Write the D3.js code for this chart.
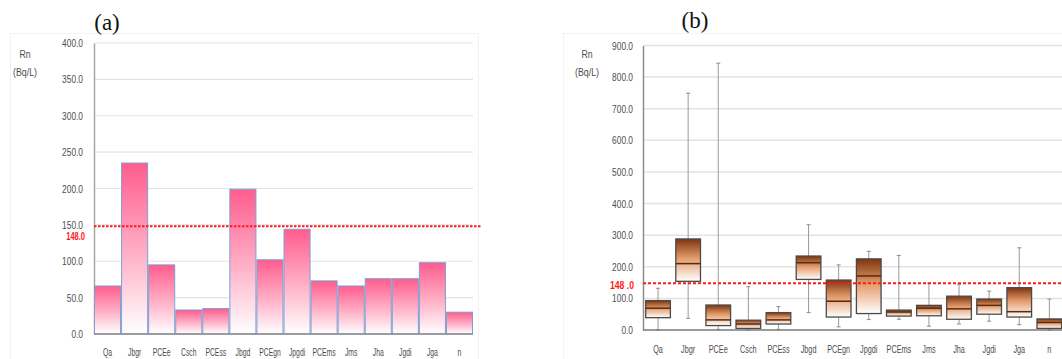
<!DOCTYPE html>
<html>
<head>
<meta charset="utf-8">
<script src="https://cdn.jsdelivr.net/npm/d3@7"></script>
<style>
  html, body { margin: 0; padding: 0; background: #fff; }
  svg { display: block; }
</style>
</head>
<body>
<svg id="chart" width="1062" height="359"></svg>
<script>
// Sampling sites (geological units)
const categories = ["Qa","Jbgr","PCEe","Csch","PCEss","Jbgd","PCEgn","Jpgdi","PCEms","Jms","Jha","Jgdi","Jga","n"];

// (a) mean radon concentration per unit (Bq/L)
const meanValues = [66, 235, 95, 33, 35, 199, 102, 144, 73, 66, 76, 76, 98, 30];

// (b) box-plot statistics per unit (Bq/L)
const boxMin    = [0, 37, 2, 0, 2, 55, 10, 33, 34, 12, 19, 28, 17, 0];
const boxQ1     = [39, 154, 14, 5, 19, 160, 41, 52, 44, 45, 34, 50, 41, 5];
const boxMedian = [69, 210, 32, 19, 32, 213, 91, 171, 57, 69, 67, 78, 58, 24];
const boxQ3     = [93, 288, 79, 31, 55, 234, 158, 225, 63, 78, 107, 98, 134, 35];
const boxMax    = [132, 749, 844, 137, 74, 333, 206, 249, 236, 148, 145, 123, 260, 98];

// Reference level and axis ticks
const threshold = 148;
const ticksA = [0, 50, 100, 150, 200, 250, 300, 350, 400];
const ticksB = [0, 100, 200, 300, 400, 500, 600, 700, 800, 900];

const svg = d3.select("#chart");
const fmt = d3.format(".1f");
const sans = "'Liberation Sans', Arial, sans-serif";
const serif = "'Liberation Serif', 'DejaVu Serif', serif";
const textGrey = "#4d4d4d";

// squeeze label text horizontally (condensed look) around its anchor point
function condense(sel, k) {
  sel.each(function () {
    const t = d3.select(this);
    const x = +t.attr("x") || 0, y = +t.attr("y") || 0;
    t.attr("x", 0).attr("y", 0).attr("transform", `translate(${x},${y}) scale(${k},1)`);
  });
}

const defs = svg.append("defs");
const pink = defs.append("linearGradient").attr("id", "pinkFill")
  .attr("x1", 0).attr("y1", 0).attr("x2", 0).attr("y2", 1);
pink.append("stop").attr("offset", "0%").attr("stop-color", "#ff5c8d");
pink.append("stop").attr("offset", "55%").attr("stop-color", "#ffb3c9");
pink.append("stop").attr("offset", "100%").attr("stop-color", "#ffffff");

const brown = defs.append("linearGradient").attr("id", "brownFill")
  .attr("x1", 0).attr("y1", 0).attr("x2", 0).attr("y2", 1);
brown.append("stop").attr("offset", "0%").attr("stop-color", "#7d3510");
brown.append("stop").attr("offset", "45%").attr("stop-color", "#e39a6a");
brown.append("stop").attr("offset", "100%").attr("stop-color", "#ffffff");

function unitLabel(g, cx) {
  g.append("text").attr("x", cx).attr("y", 58).attr("text-anchor", "middle")
    .attr("font-family", sans).attr("font-size", 11).attr("fill", textGrey).text("Rn")
    .call(condense, 0.8);
  g.append("text").attr("x", cx).attr("y", 76).attr("text-anchor", "middle")
    .attr("font-family", sans).attr("font-size", 11).attr("fill", textGrey).text("(Bq/L)")
    .call(condense, 0.8);
}

// ---------- Panel (a): bar chart ----------
{
  const g = svg.append("g");
  g.append("rect").attr("x", 10.5).attr("y", 33.5).attr("width", 468).attr("height", 340)
    .attr("fill", "none").attr("stroke", "#f2f2f2");

  const x = d3.scaleBand().domain(categories).range([94, 473]).padding(0);
  const y = d3.scaleLinear().domain([0, 400]).range([334, 43]);

  g.append("g").selectAll("line").data(ticksA.filter(d => d > 0)).join("line")
    .attr("x1", 94).attr("x2", 473)
    .attr("y1", d => y(d)).attr("y2", d => y(d))
    .attr("stroke", "#e3e3e3").attr("stroke-width", 1.2);

  const ax = g.append("g").attr("transform", "translate(94,0)")
    .call(d3.axisLeft(y).tickValues(ticksA).tickFormat(fmt).tickSize(0).tickPadding(11));
  ax.select(".domain").attr("stroke", "#a6a6a6").attr("stroke-width", 1.5);
  ax.selectAll("text").attr("font-family", sans).attr("font-size", 11).attr("fill", textGrey)
    .call(condense, 0.76);

  g.append("g").selectAll("rect").data(categories).join("rect")
    .attr("x", d => x(d) + 0.5)
    .attr("y", (d, i) => y(meanValues[i]))
    .attr("width", x.bandwidth() - 1)
    .attr("height", (d, i) => y(0) - y(meanValues[i]))
    .attr("fill", "url(#pinkFill)")
    .attr("stroke", "#7f9fd2").attr("stroke-width", 1);

  g.append("line").attr("x1", 94).attr("x2", 473).attr("y1", y(0)).attr("y2", y(0))
    .attr("stroke", "#8c8c8c").attr("stroke-width", 1.5);

  g.append("g").selectAll("text").data(categories).join("text")
    .attr("x", d => x(d) + x.bandwidth() / 2).attr("y", 356)
    .attr("text-anchor", "middle").attr("font-family", sans).attr("font-size", 11)
    .attr("fill", textGrey).text(d => d).call(condense, 0.62);

  g.append("line").attr("x1", 94).attr("x2", 482)
    .attr("y1", y(threshold)).attr("y2", y(threshold))
    .attr("stroke", "#ff1a1a").attr("stroke-width", 2).attr("stroke-dasharray", "2.5,1.5");
  g.append("text").attr("x", 85).attr("y", 240).attr("text-anchor", "end")
    .attr("font-family", sans).attr("font-size", 11).attr("font-weight", "bold")
    .attr("fill", "#ff1a1a").text(fmt(threshold)).call(condense, 0.68);

  unitLabel(g, 25);

  g.append("text").attr("x", 107).attr("y", 30).attr("text-anchor", "middle")
    .attr("font-family", serif).attr("font-size", 23).attr("fill", "#111").text("(a)");
}

// ---------- Panel (b): box plot ----------
{
  const g = svg.append("g");
  g.append("rect").attr("x", 563.5).attr("y", 33.5).attr("width", 520).attr("height", 340)
    .attr("fill", "none").attr("stroke", "#f2f2f2");

  const x = d3.scaleBand().domain(categories).range([643, 1064.4])
    .paddingInner(0.18).paddingOuter(0.09);
  const y = d3.scaleLinear().domain([0, 900]).range([330, 45.5]);

  g.append("g").selectAll("line").data(ticksB.filter(d => d > 0)).join("line")
    .attr("x1", 643).attr("x2", 1062)
    .attr("y1", d => y(d)).attr("y2", d => y(d))
    .attr("stroke", "#e3e3e3").attr("stroke-width", 1.5);

  const ax = g.append("g").attr("transform", "translate(643,0)")
    .call(d3.axisLeft(y).tickValues(ticksB).tickFormat(fmt).tickSize(0).tickPadding(10));
  ax.select(".domain").attr("stroke", "#8c8c8c").attr("stroke-width", 1.5);
  ax.selectAll("text").attr("font-family", sans).attr("font-size", 11).attr("fill", textGrey)
    .call(condense, 0.76);

  const cx = d => x(d) + x.bandwidth() / 2;
  const items = categories.map((c, i) => ({
    c, min: boxMin[i], q1: boxQ1[i], med: boxMedian[i], q3: boxQ3[i], max: boxMax[i]
  }));
  const bx = g.append("g").selectAll("g").data(items).join("g");

  // whiskers
  bx.append("line").attr("x1", d => cx(d.c)).attr("x2", d => cx(d.c))
    .attr("y1", d => y(d.max)).attr("y2", d => y(d.q3))
    .attr("stroke", "#9a9a9a").attr("stroke-width", 1);
  bx.append("line").attr("x1", d => cx(d.c)).attr("x2", d => cx(d.c))
    .attr("y1", d => y(d.q1)).attr("y2", d => y(d.min))
    .attr("stroke", "#9a9a9a").attr("stroke-width", 1);
  bx.append("line").attr("x1", d => cx(d.c) - 2).attr("x2", d => cx(d.c) + 2)
    .attr("y1", d => y(d.max)).attr("y2", d => y(d.max))
    .attr("stroke", "#8a8a8a").attr("stroke-width", 1);
  bx.append("line").attr("x1", d => cx(d.c) - 2).attr("x2", d => cx(d.c) + 2)
    .attr("y1", d => y(d.min)).attr("y2", d => y(d.min))
    .attr("stroke", "#8a8a8a").attr("stroke-width", 1);

  // boxes
  bx.append("rect").attr("x", d => x(d.c)).attr("width", x.bandwidth())
    .attr("y", d => y(d.q3)).attr("height", d => y(d.q1) - y(d.q3))
    .attr("fill", "url(#brownFill)").attr("stroke", "#4a4a4a").attr("stroke-width", 1.3);
  bx.append("line").attr("x1", d => x(d.c)).attr("x2", d => x(d.c) + x.bandwidth())
    .attr("y1", d => y(d.med)).attr("y2", d => y(d.med))
    .attr("stroke", "#5a2a0c").attr("stroke-width", 1.5);

  g.append("line").attr("x1", 643).attr("x2", 1062).attr("y1", y(0)).attr("y2", y(0))
    .attr("stroke", "#7a7a7a").attr("stroke-width", 1.5);

  g.append("g").selectAll("text").data(categories).join("text")
    .attr("x", d => cx(d)).attr("y", 353)
    .attr("text-anchor", "middle").attr("font-family", sans).attr("font-size", 11)
    .attr("fill", textGrey).text(d => d).call(condense, 0.66);

  g.append("line").attr("x1", 643).attr("x2", 1062)
    .attr("y1", y(threshold)).attr("y2", y(threshold))
    .attr("stroke", "#ff1a1a").attr("stroke-width", 2).attr("stroke-dasharray", "3,2");
  g.append("text").attr("x", 634).attr("y", 289).attr("text-anchor", "end")
    .attr("font-family", sans).attr("font-size", 11.5).attr("font-weight", "bold")
    .attr("fill", "#ff1a1a").text("148 .0").call(condense, 0.75);

  unitLabel(g, 587);

  g.append("text").attr("x", 695).attr("y", 28).attr("text-anchor", "middle")
    .attr("font-family", serif).attr("font-size", 23).attr("fill", "#111").text("(b)");
}
</script>
</body>
</html>
